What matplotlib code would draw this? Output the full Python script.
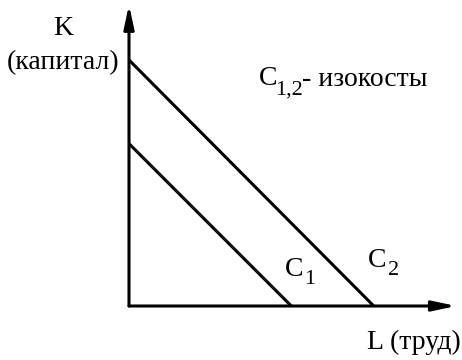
import matplotlib
matplotlib.use("Agg")
import matplotlib.pyplot as plt

plt.rcParams['font.family'] = ['Liberation Serif', 'DejaVu Serif']

# isocost lines: intercepts on the K axis and on the L axis
iso_names = ['C', 'C']
iso_subs = ['1', '2']
k_intercept = [6.6, 10.0]
l_intercept = [6.6, 9.95]

# axis extents (arrow tips)
l_max = 13.3
k_max = 12.25

px = 24.6  # pixels per unit
fig = plt.figure(figsize=(4.62, 3.6), dpi=100)
ax = fig.add_axes([0, 0, 1, 1])
ax.set_xlim(-129 / px, (462 - 129) / px)
ax.set_ylim(-(360 - 306) / px, 306 / px)
ax.axis('off')

arrow = dict(arrowstyle='-|>,head_length=1.4,head_width=0.3', color='black',
             lw=2.2, shrinkA=0, shrinkB=0)
ax.annotate('', xy=(l_max, 0), xytext=(0, 0), arrowprops=arrow)
ax.annotate('', xy=(0, k_max), xytext=(0, 0), arrowprops=arrow)

for k, l in zip(k_intercept, l_intercept):
    ax.plot([0, l], [k, 0], color='black', lw=2.2, solid_capstyle='butt')

big = 20
small = 16
ax.text(-2.68, 11.3, 'K', fontsize=big, ha='center', va='center')
ax.text(-2.68, 9.88, '(капитал)', fontsize=big, ha='center', va='center')
ax.text(11.6, -1.5, 'L (труд)', fontsize=big, ha='center', va='center')

# note in the corner
ax.text(5.67, 9.23, 'C', fontsize=big, ha='center', va='center')
ax.text(6.52, 8.78, '1,2', fontsize=small, ha='center', va='center')
ax.text(7.05, 9.19, '- изокосты', fontsize=big, ha='left', va='center')

# line labels
ax.text(6.72, 1.48, iso_names[0], fontsize=big, ha='center', va='center')
ax.text(7.35, 1.06, iso_subs[0], fontsize=small, ha='center', va='center')
ax.text(10.1, 1.83, iso_names[1], fontsize=big, ha='center', va='center')
ax.text(10.76, 1.46, iso_subs[1], fontsize=small, ha='center', va='center')

fig.savefig('out.png', dpi=100)
